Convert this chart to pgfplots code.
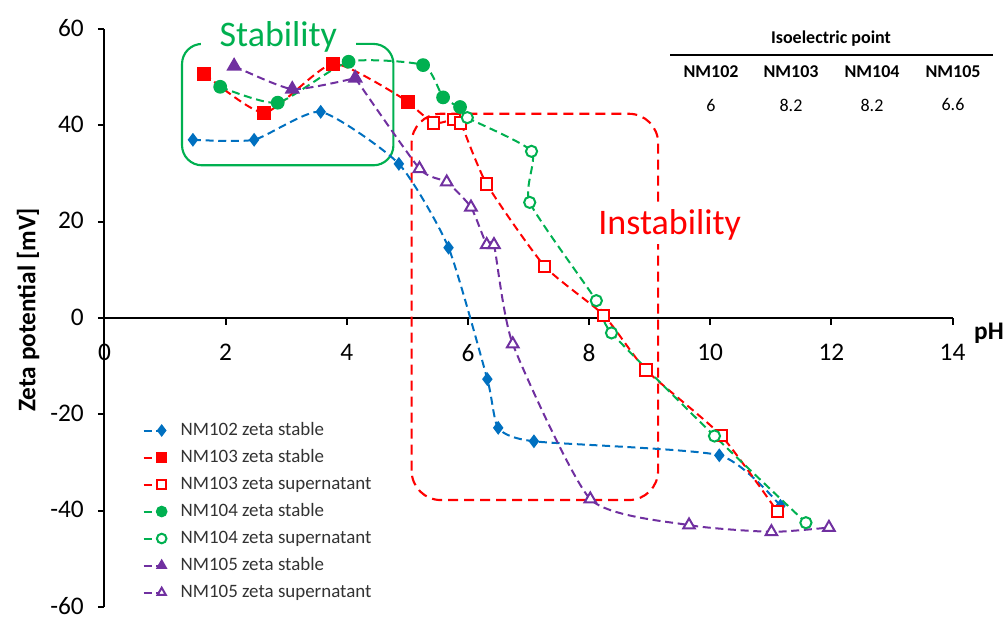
\documentclass[border=0pt]{standalone}
\usepackage{fontspec}
\setmainfont{Carlito}
\usepackage{pgfplots}
\pgfplotsset{compat=1.18}
\definecolor{cblue}{RGB}{0,112,192}
\definecolor{cred}{RGB}{255,0,0}
\definecolor{cgreen}{RGB}{0,176,80}
\definecolor{cpurple}{RGB}{112,48,160}
\definecolor{ctext}{RGB}{50,50,50}
\begin{document}
\begin{tikzpicture}
\path[use as bounding box] (-78.375pt,-9.75pt) rectangle (675.375pt,455.25pt);
\begin{axis}[
  at={(0pt,0pt)}, anchor=south west,
  scale only axis, width=636pt, height=433.5pt,
  xmin=0, xmax=14, ymin=-60, ymax=60,
  axis x line*=middle, axis y line*=left,
  xtick={0,2,...,14}, ytick={-60,-40,...,60},
  tick align=outside, major tick length=5pt,
  hide obscured x ticks=false, hide obscured y ticks=false,
  axis line style={line width=1.5pt, black},
  tick style={line width=1.5pt, black},
  ticklabel style={font=\fontsize{19}{21}\selectfont},
  xticklabel style={yshift=-11pt},
  yticklabel style={xshift=-7pt, yshift=0.6pt, inner ysep=0pt},
  /pgf/number format/assume math mode=true,
  clip=false,
  every axis y label/.style={at={(axis description cs:-0.090,0.514)}, rotate=90, anchor=center, font=\bfseries\fontsize{19}{22}\selectfont},
  ylabel={Zeta potential [mV]},
  every axis x label/.style={at={(axis description cs:1.043,0.473)}, anchor=center, font=\bfseries\fontsize{19}{22}\selectfont},
  xlabel={pH},
  legend style={at={(axis description cs:0.04,0.33)}, anchor=north west, draw=none, fill=none, font=\fontsize{14.2}{16}\selectfont, text=ctext, row sep=3.25pt, column sep=7pt, nodes={text height=10pt, text depth=3pt, inner sep=2pt}},
  legend cell align=left,
  legend image code/.code={\draw[#1, mark indices={2}, mark size=3.6pt] plot coordinates {(0pt,0pt)(13.5pt,0pt)(18pt,0pt)};},
  every axis plot/.append style={line width=1.5pt, dash pattern=on 6pt off 3.5pt, smooth, tension=0.35},
]
% annotation boxes
\draw[cgreen, line width=1.6pt, rounded corners=15pt] (axis cs:1.28,31.7) rectangle (axis cs:4.77,56.9);
\node[fill=white, inner xsep=14pt, inner ysep=1pt, text=cgreen, font=\fontsize{27}{30}\selectfont, anchor=base] at (axis cs:2.87,56.3) {Stability};
\draw[cred, line width=1.6pt, dash pattern=on 7.5pt off 4.5pt, rounded corners=22pt] (axis cs:5.07,-37.8) rectangle (axis cs:9.14,42.4);
\node[fill=white, inner xsep=2pt, inner ysep=3pt, text=cred, font=\fontsize{27}{30}\selectfont, anchor=base] at (axis cs:9.33,17.3) {Instability};

\addplot[cblue, mark=diamond*, mark size=4pt, mark options={solid}] coordinates {(1.46,37.0)(2.47,37.0)(3.57,42.8)(4.86,32.0)(5.68,14.6)(6.32,-12.7)(6.50,-22.8)(7.09,-25.6)(10.15,-28.5)(11.16,-39.0)};
\addlegendentry{NM102 zeta stable}
\addplot[cred, mark=square*, mark size=4.5pt, mark options={solid}] coordinates {(1.65,50.7)(2.64,42.6)(3.78,52.8)(5.01,44.9)};
\addlegendentry{NM103 zeta stable}
\addplot[cred, mark=square*, mark size=4.2pt, mark options={solid, fill=white}, mark indices={2,3,4,5,6,7,8,9,10}] coordinates {(5.01,44.9)(5.43,40.5)(5.77,41.2)(5.88,40.5)(6.31,27.8)(7.27,10.7)(8.24,0.6)(8.94,-10.8)(10.18,-24.4)(11.11,-40.2)};
\addlegendentry{NM103 zeta supernatant}
\addplot[cgreen, mark=*, mark size=4.4pt, mark options={solid}] coordinates {(1.91,48.0)(2.86,44.7)(4.03,53.2)(5.26,52.5)(5.59,45.8)(5.87,43.8)};
\addlegendentry{NM104 zeta stable}
\addplot[cgreen, mark=*, mark size=4.2pt, mark options={solid, fill=white}, mark indices={2,3,4,5,6,7,8}] coordinates {(5.87,43.8)(5.99,41.6)(7.05,34.6)(7.02,24.0)(8.12,3.6)(8.37,-3.1)(10.07,-24.5)(11.58,-42.5)};
\addlegendentry{NM104 zeta supernatant}
\addplot[cpurple, mark=triangle*, mark size=5.2pt, mark options={solid}] coordinates {(2.14,52.3)(3.10,47.5)(4.14,49.8)};
\addlegendentry{NM105 zeta stable}
\addplot[cpurple, mark=triangle*, mark size=5pt, mark options={solid, fill=white}, mark indices={2,3,4,5,6,7,8,9,10,11}] coordinates {(4.14,49.8)(5.20,31.0)(5.65,28.2)(6.05,23.0)(6.31,15.2)(6.43,15.2)(6.74,-5.4)(8.02,-37.6)(9.65,-43.0)(11.01,-44.4)(11.96,-43.5)};
\addlegendentry{NM105 zeta supernatant}
\end{axis}
\begin{scope}[shift={(-78.375pt,457.5pt)}, x=0.75pt, y=-0.75pt]
\node[font=\bfseries\fontsize{13.5}{16}\selectfont] at (831,42) {Isoelectric point};
\draw[line width=0.8pt] (670,58) -- (993,58);
\node[font=\bfseries\fontsize{13.5}{16}\selectfont] at (711,75) {NM102};
\node[font=\bfseries\fontsize{13.5}{16}\selectfont] at (791,75) {NM103};
\node[font=\bfseries\fontsize{13.5}{16}\selectfont] at (872,75) {NM104};
\node[font=\bfseries\fontsize{13.5}{16}\selectfont] at (953,75) {NM105};
\node[font=\fontsize{13.5}{16}\selectfont] at (711,108) {6};
\node[font=\fontsize{13.5}{16}\selectfont] at (791,108) {8.2};
\node[font=\fontsize{13.5}{16}\selectfont] at (872,108) {8.2};
\node[font=\fontsize{13.5}{16}\selectfont] at (953,108) {6.6};
\end{scope}
\end{tikzpicture}
\end{document}
